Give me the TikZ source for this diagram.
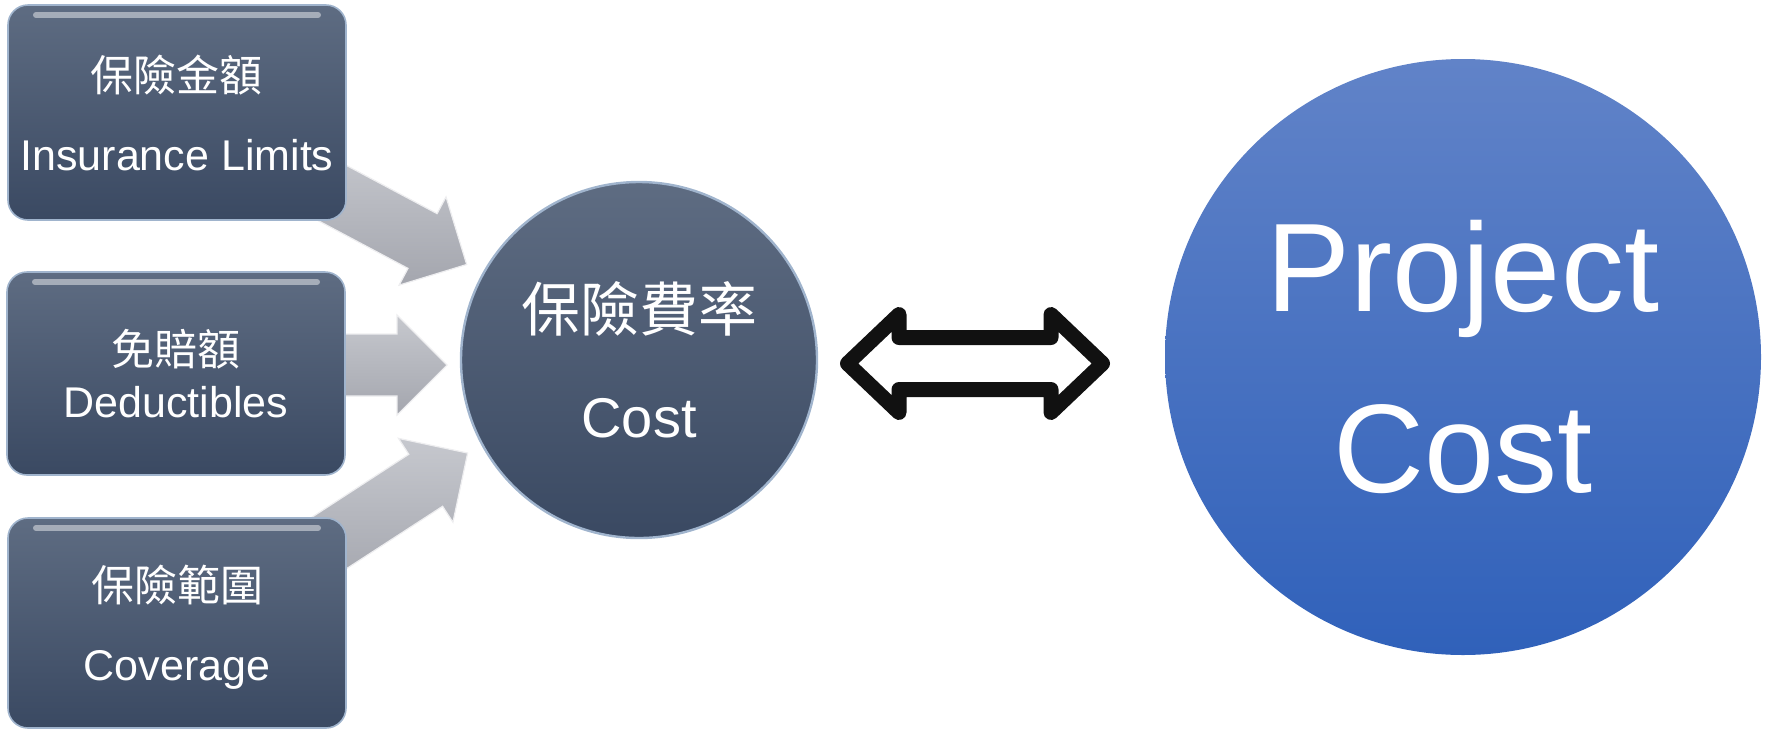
\documentclass[tikz,border=0pt]{standalone}
\usepackage{fontspec}
\setmainfont{Liberation Sans}
\newfontfamily\cjk{Noto Sans CJK TC}
\usetikzlibrary{calc}
\definecolor{boxtop}{RGB}{94,108,130}
\definecolor{boxbot}{RGB}{58,73,98}
\definecolor{boxrim}{RGB}{160,180,205}
\definecolor{projtop}{RGB}{97,131,200}
\definecolor{projbot}{RGB}{48,97,186}
\definecolor{feedtop}{RGB}{198,200,206}
\definecolor{feedbot}{RGB}{164,166,174}
\definecolor{swapink}{RGB}{17,17,17}
\tikzset{
  factor/.style={rectangle, rounded corners=10pt, minimum width=169pt, inner sep=0pt,
    text=white, align=center, top color=boxtop, bottom color=boxbot,
    draw=boxrim, line width=0.8pt, font=\fontsize{21.5}{26}\selectfont,
    path picture={\draw[white, opacity=.45, line width=3pt, line cap=round]
      ([xshift=14pt,yshift=-5pt]path picture bounding box.north west) --
      ([xshift=-14pt,yshift=-5pt]path picture bounding box.north east);}},
  rate/.style={circle, minimum size=178pt, inner sep=0pt, text=white, align=center,
    top color=boxtop, bottom color=boxbot, draw=boxrim, line width=1.2pt,
    font=\fontsize{28}{53}\selectfont},
  total/.style={circle, minimum size=298pt, inner sep=0pt, text=white, align=center,
    top color=projtop, bottom color=projbot, font=\fontsize{63}{90.5}\selectfont},
  feedshade/.style={top color=feedtop, bottom color=feedbot, draw=white!70!feedtop, line width=0.6pt},
  swaparrow/.style={draw=swapink, line width=7.5pt, line join=round},
  pics/feed/.style={code={
    \path[feedshade] (0,0) -- (-50,50) -- (-50,31) -- (-#1,31) -- (-#1,-31)
      -- (-50,-31) -- (-50,-50) -- cycle;}}
}
\begin{document}
\begin{tikzpicture}[x=0.5pt, y=0.5pt]
  \useasboundingbox (0,0) rectangle (1768,-729);
  \node[rate] (cost) at (639,-360) {{\cjk\fontsize{29.5}{53}\selectfont 保險費率}\\Cost};
  \node[total] (project) at (1463,-357) {Project\\Cost};

  \coordinate (t1) at ($(cost.center)+(151:197)$);
  \coordinate (t2) at ($(cost.center)+(181.5:192)$);
  \coordinate (t3) at ($(cost.center)+(208.5:195)$);
  \pic[rotate=-28] at (t1) {feed=200};
  \pic at (t2) {feed=120};
  \pic[rotate=33] at (t3) {feed=200};

  \node[factor, minimum height=107.5pt] (limits) at (177,-112.5)
    {{\cjk 保險金額}\\[13.5pt]Insurance Limits};
  \node[factor, minimum height=101.5pt] (deduct) at (176,-373.5)
    {{\cjk 免賠額}\\Deductibles};
  \node[factor, minimum height=105pt] (coverage) at (177,-623)
    {{\cjk 保險範圍}\\[13.5pt]\smash{Coverage}};

  \coordinate (swap) at (975,-363.5);
  \draw[swaparrow, shift={(swap)}] (-127.5,0) -- (-76,49) -- (-76,26) -- (76,26) -- (76,49)
    -- (127.5,0) -- (76,-49) -- (76,-26) -- (-76,-26) -- (-76,-49) -- cycle;
\end{tikzpicture}
\end{document}
